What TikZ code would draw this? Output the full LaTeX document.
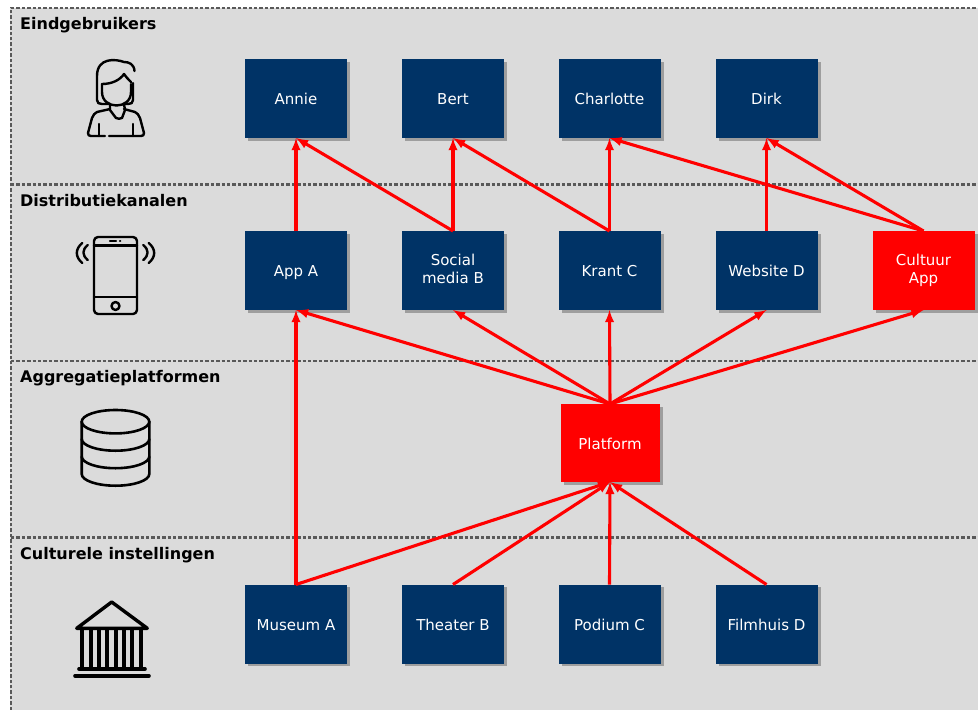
\documentclass[tikz,border=0pt]{standalone}
\usepackage{fontspec}
\setmainfont{DejaVu Sans}
\usetikzlibrary{shadows}
\tikzset{>=latex}
\definecolor{bandgray}{HTML}{DBDBDB}
\definecolor{dashgray}{HTML}{595959}
\definecolor{boxblue}{HTML}{003366}
\tikzset{
  blok/.style={draw=none,fill=boxblue,text=white,minimum width=102pt,minimum height=79pt,inner sep=0pt,outer sep=0pt,align=center,font=\fontsize{15}{18}\selectfont,
    execute at begin node=\rule{0pt}{16.5pt},execute at end node=\rule[-4pt]{0pt}{4pt},
    drop shadow={shadow xshift=3pt,shadow yshift=-2.5pt,fill=black,opacity=.28}},
  rood/.style={blok,fill=red},
  laag/.style={anchor=west,inner sep=0pt,font=\fontsize{16}{18}\selectfont\bfseries},
  scheiding/.style={color=dashgray,line width=2.5pt,dash pattern=on 3.4pt off 2pt},
  pijl/.style={->,color=red,line width=3.1pt},
  icoon/.style={line width=2.4pt,line cap=round,line join=round}
}

\begin{document}
\begin{tikzpicture}[x=1pt,y=-1pt]
\useasboundingbox (0,0) rectangle (978,710);
\fill [color=bandgray](10,8) rectangle (978,710);

\draw [scheiding](11,710)--(11,8)--(978,8);
\draw [scheiding](11,184.5)--(978,184.5);
\draw [scheiding](11,361)--(978,361);
\draw [scheiding](11,537.5)--(978,537.5);

	\node [laag] (eind) at(20,25){Eindgebruikers};
	\node [laag] (distributie) at(20,201){Distributiekanalen};
	\node [laag] (aggregatie) at(20,378){Aggregatieplatformen};
	\node [laag] (cultuur) at(20,555){Culturele instellingen};

	\node [blok] (annie) at(296,98.5){Annie};
	\node [blok] (bert) at(453,98.5){Bert};
	\node [blok] (charlotte) at(609.5,98.5){Charlotte};
	\node [blok] (dirk) at(766.5,98.5){Dirk};

	\node [blok] (appa) at(296,270.5){App A};
	\node [blok] (social) at(453,270.5){Social\\media B};
	\node [blok] (krant) at(609.5,270.5){Krant C};
	\node [blok] (website) at(766.5,270.5){Website D};
	\node [rood] (cultuurapp) at(923.5,270.5){Cultuur\\App};

	\node [rood,minimum width=99pt,minimum height=78pt] (platform) at(610,443){Platform};

	\node [blok] (museum) at(296,624){Museum A};
	\node [blok] (theater) at(453,624){Theater B};
	\node [blok] (podium) at(609.5,624){Podium C};
	\node [blok] (filmhuis) at(766.5,624){Filmhuis D};

	\draw [pijl](appa.north)--(annie.south);
	\draw [pijl](social.north)--(annie.south);
	\draw [pijl](social.north)--(bert.south);
	\draw [pijl](krant.north)--(bert.south);
	\draw [pijl](krant.north)--(charlotte.south);
	\draw [pijl](cultuurapp.north)--(charlotte.south);
	\draw [pijl](website.north)--(dirk.south);
	\draw [pijl](cultuurapp.north)--(dirk.south);

	\draw [pijl](platform.north)--(appa.south);
	\draw [pijl](platform.north)--(social.south);
	\draw [pijl](platform.north)--(krant.south);
	\draw [pijl](platform.north)--(website.south);
	\draw [pijl](platform.north)--(cultuurapp.south);

	\draw [pijl](museum.north)--(appa.south);
	\draw [pijl](museum.north)--(platform.south);
	\draw [pijl](theater.north)--(platform.south);
	\draw [pijl](podium.north)--(platform.south);
	\draw [pijl](filmhuis.north)--(platform.south);

% persoon
\draw [icoon](134.5,71) .. controls (134,64) and (129,62) .. (124,62) .. controls (116,59) and (97,57) .. (97,76)--(97,100) .. controls (97,103) and (99,104) .. (102,104)--(110,104);
\draw [icoon](133,83)--(133,100) .. controls (133,103) and (131,104) .. (128,104)--(124,104);
\draw [icoon](102,84)--(102,92) .. controls (102,110) and (131,110) .. (131,92)--(131,84);
\draw [icoon](102,84) .. controls (112,84) and (120,80) .. (124,74) .. controls (126,77) and (128,79) .. (131,82);
\draw [icoon](110,104)--(110,110)--(116,118) .. controls (118,119) and (120,119) .. (122,118)--(125,110)--(124,104);
\draw [icoon](110,109)--(97,112) .. controls (95,113) and (93,115) .. (92,118)--(88,133) .. controls (88,135) and (89,136) .. (91,136)--(105,136);
\draw [icoon](109,136)--(141,136) .. controls (143,136) and (144,135) .. (144,133)--(140,118) .. controls (139,115) and (137,113) .. (135,112)--(124,109);
\draw [icoon](99,124)--(99,136);
\draw [icoon](133,124)--(133,136);

% telefoon
\draw [icoon,rounded corners=4pt](94,237) rectangle (137,314);
\draw [icoon](94,245.5)--(137,245.5);
\draw [icoon](94,297)--(137,297);
\draw [icoon](110,241)--(116,241);
\draw [icoon](120,241)--(120.2,241);
\draw [icoon](115.5,306) circle (4);
\draw [icoon](87.7,245) .. controls (82,250) and (82,255) .. (87.7,260);
\draw [icoon](82.3,243) .. controls (75,249) and (75,257) .. (82.3,263);
\draw [icoon](143.3,245) .. controls (149,250) and (149,255) .. (143.3,260);
\draw [icoon](148.7,243) .. controls (156,249) and (156,257) .. (148.7,263);

% database
\draw [icoon,line width=2.6pt](115.5,421.7) ellipse (33.8 and 11.7);
\draw [icoon,line width=2.6pt](81.7,421.7)--(81.7,474) arc (180:0:33.8 and 11.7)--(149.3,421.7);
\draw [icoon,line width=2.6pt](81.7,439) arc (180:0:33.8 and 11.7);
\draw [icoon,line width=2.6pt](81.7,456.5) arc (180:0:33.8 and 11.7);

% gebouw
\draw [icoon,line width=3.4pt](111.7,602)--(76.7,628.3)--(147.3,628.3)--cycle;
\draw [line width=4pt](82.3,628)--(82.3,669) (90.7,628)--(90.7,669) (99,628)--(99,669) (107.3,628)--(107.3,669) (115.7,628)--(115.7,669) (124,628)--(124,669) (132.3,628)--(132.3,669) (140.7,628)--(140.7,669);
\draw [icoon,line width=3.6pt](79,669)--(145,669);
\draw [icoon,line width=3.6pt](75,675.7)--(149,675.7);
\end{tikzpicture}
\end{document}
